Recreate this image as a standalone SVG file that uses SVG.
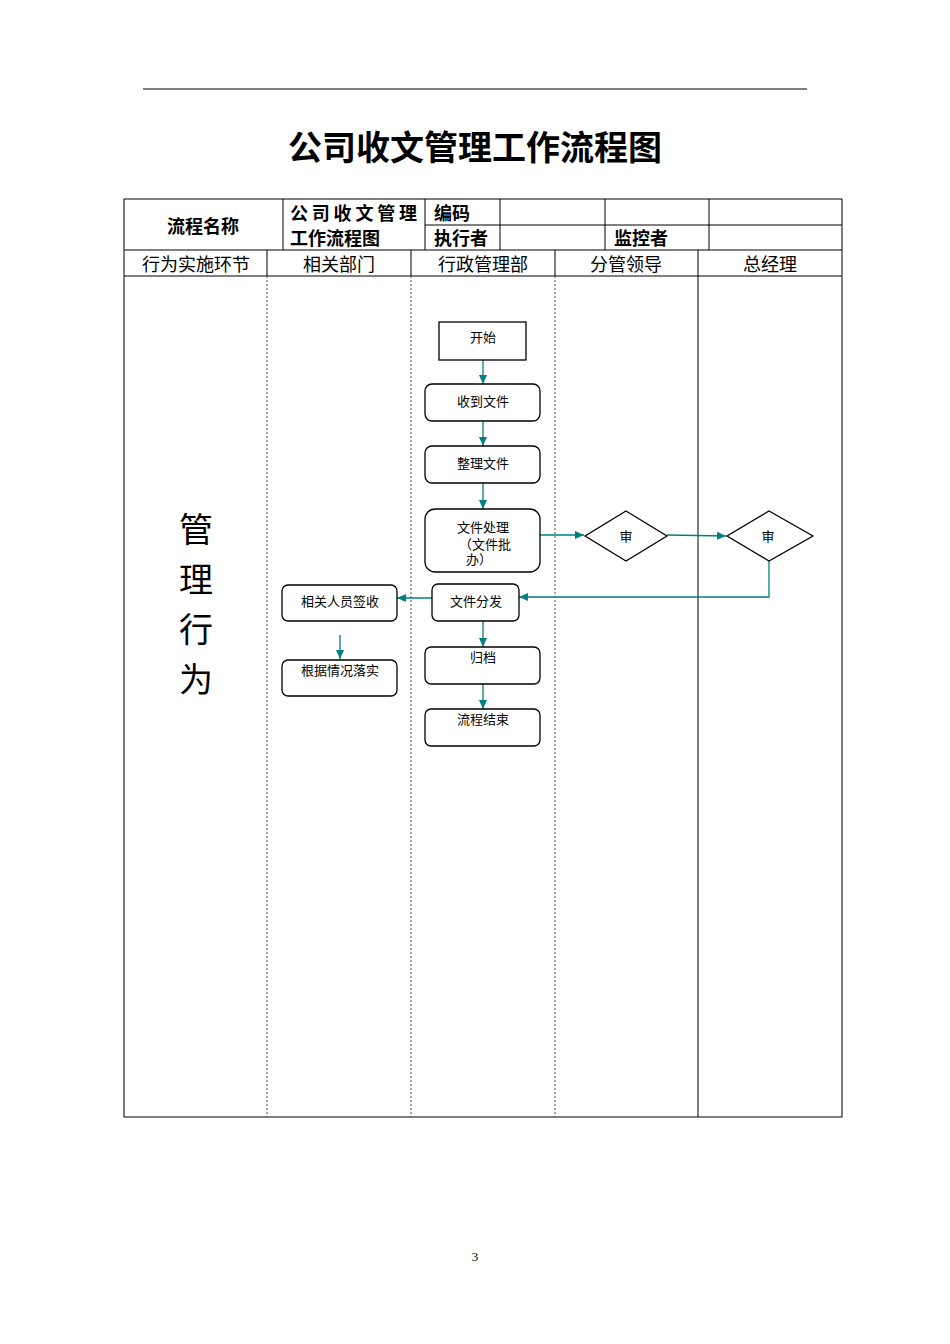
<svg xmlns="http://www.w3.org/2000/svg" width="950" height="1344" viewBox="0 0 950 1344">
<style>
text{font-family:"Liberation Serif","Noto Sans CJK SC",serif;fill:#000}
.n{fill:#fff;stroke:#000;stroke-width:1.3}
.c{stroke:#008080;stroke-width:1.3;fill:none;marker-end:url(#a)}
.t{font-size:13px;text-anchor:middle}
.h{font-size:18px;text-anchor:middle}
.b{font-size:18px;font-weight:bold}
.g{stroke:#000;stroke-width:1}
.d{stroke:#555;stroke-width:1;stroke-dasharray:2,2}
</style>
<defs><marker id="a" markerWidth="10" markerHeight="10" refX="9" refY="5" orient="auto" markerUnits="userSpaceOnUse"><path d="M0,1 L9,5 L0,9 z" fill="#008080"/></marker></defs>
<rect width="950" height="1344" fill="#fff"/>
<line x1="143" y1="89" x2="807" y2="89" class="g" stroke-width="1.5"/>
<text x="475" y="160" text-anchor="middle" font-size="34" font-weight="bold">公司收文管理工作流程图</text>
<g id="table" fill="none">
<rect x="124" y="199" width="718" height="918" class="g" fill="none"/>
<line x1="425" y1="225" x2="842" y2="225" class="g"/>
<line x1="124" y1="250" x2="842" y2="250" class="g"/>
<line x1="124" y1="276" x2="842" y2="276" class="g"/>
<line x1="283" y1="199" x2="283" y2="250" class="g"/>
<line x1="425" y1="199" x2="425" y2="250" class="g"/>
<line x1="500" y1="199" x2="500" y2="250" class="g"/>
<line x1="605" y1="199" x2="605" y2="250" class="g"/>
<line x1="709" y1="199" x2="709" y2="250" class="g"/>
<line x1="267" y1="250" x2="267" y2="276" class="g"/>
<line x1="411" y1="250" x2="411" y2="276" class="g"/>
<line x1="555" y1="250" x2="555" y2="276" class="g"/>
<line x1="698" y1="250" x2="698" y2="1117" class="g"/>
<line x1="267" y1="276" x2="267" y2="1117" class="d"/>
<line x1="411" y1="276" x2="411" y2="1117" class="d"/>
<line x1="555" y1="276" x2="555" y2="1117" class="d"/>
</g>
<text x="203" y="233" class="b" text-anchor="middle" font-size="20">流程名称</text>
<text x="290" y="220" class="b" font-size="17" textLength="127">公司收文管理</text>
<text x="290" y="245" class="b" font-size="17">工作流程图</text>
<text x="434" y="220" class="b" font-size="17">编码</text>
<text x="434" y="245" class="b" font-size="17">执行者</text>
<text x="614" y="245" class="b" font-size="17">监控者</text>
<text x="196" y="271" class="h">行为实施环节</text>
<text x="339" y="271" class="h">相关部门</text>
<text x="483" y="271" class="h">行政管理部</text>
<text x="626" y="271" class="h">分管领导</text>
<text x="770" y="271" class="h">总经理</text>
<g font-size="34" text-anchor="middle">
<text x="196" y="542">管</text><text x="196" y="592">理</text><text x="196" y="642">行</text><text x="196" y="692">为</text>
</g>
<g id="connectors">
<path d="M483,360 V384" class="c"/>
<path d="M483,421 V446" class="c"/>
<path d="M483,483 V509" class="c"/>
<path d="M540,535 H584" class="c"/>
<path d="M667,535 L726,536" class="c"/>
<path d="M769,561 V597 H519" class="c"/>
<path d="M432,598 H397" class="c"/>
<path d="M340,635 V659" class="c"/>
<path d="M483,621 V647" class="c"/>
<path d="M483,684 V709" class="c"/>
</g>
<g id="n1"><rect x="439" y="322" width="87" height="38" class="n"/><text x="483" y="342" class="t">开始</text></g>
<g id="n2"><rect x="425" y="384" width="115" height="37" rx="7" class="n"/><text x="483" y="406" class="t">收到文件</text></g>
<g id="n3"><rect x="425" y="446" width="115" height="37" rx="7" class="n"/><text x="483" y="468" class="t">整理文件</text></g>
<g id="n4"><rect x="425" y="509" width="115" height="63" rx="10" class="n"/><text x="483" y="532" class="t">文件处理</text><text x="485" y="549" class="t">（文件批</text><text x="479" y="564" class="t">办）</text></g>
<g id="n5"><path d="M626,511 L667,536 L626,561 L585,536 Z" class="n"/><text x="626" y="541" class="t">审</text></g>
<g id="n6"><path d="M769,511 L813,536 L769,561 L727,536 Z" class="n"/><text x="768" y="541" class="t">审</text></g>
<g id="n7"><rect x="432" y="584" width="87" height="37" rx="6" class="n"/><text x="476" y="606" class="t">文件分发</text></g>
<g id="n8"><rect x="282" y="585" width="115" height="36" rx="6" class="n"/><text x="340" y="606" class="t">相关人员签收</text></g>
<g id="n9"><rect x="282" y="660" width="115" height="36" rx="6" class="n"/><text x="340" y="675" class="t">根据情况落实</text></g>
<g id="n10"><rect x="425" y="647" width="115" height="37" rx="6" class="n"/><text x="483" y="662" class="t">归档</text></g>
<g id="n11"><rect x="425" y="709" width="115" height="37" rx="6" class="n"/><text x="483" y="724" class="t">流程结束</text></g>
<text x="475" y="1261" text-anchor="middle" font-size="13">3</text>
</svg>
